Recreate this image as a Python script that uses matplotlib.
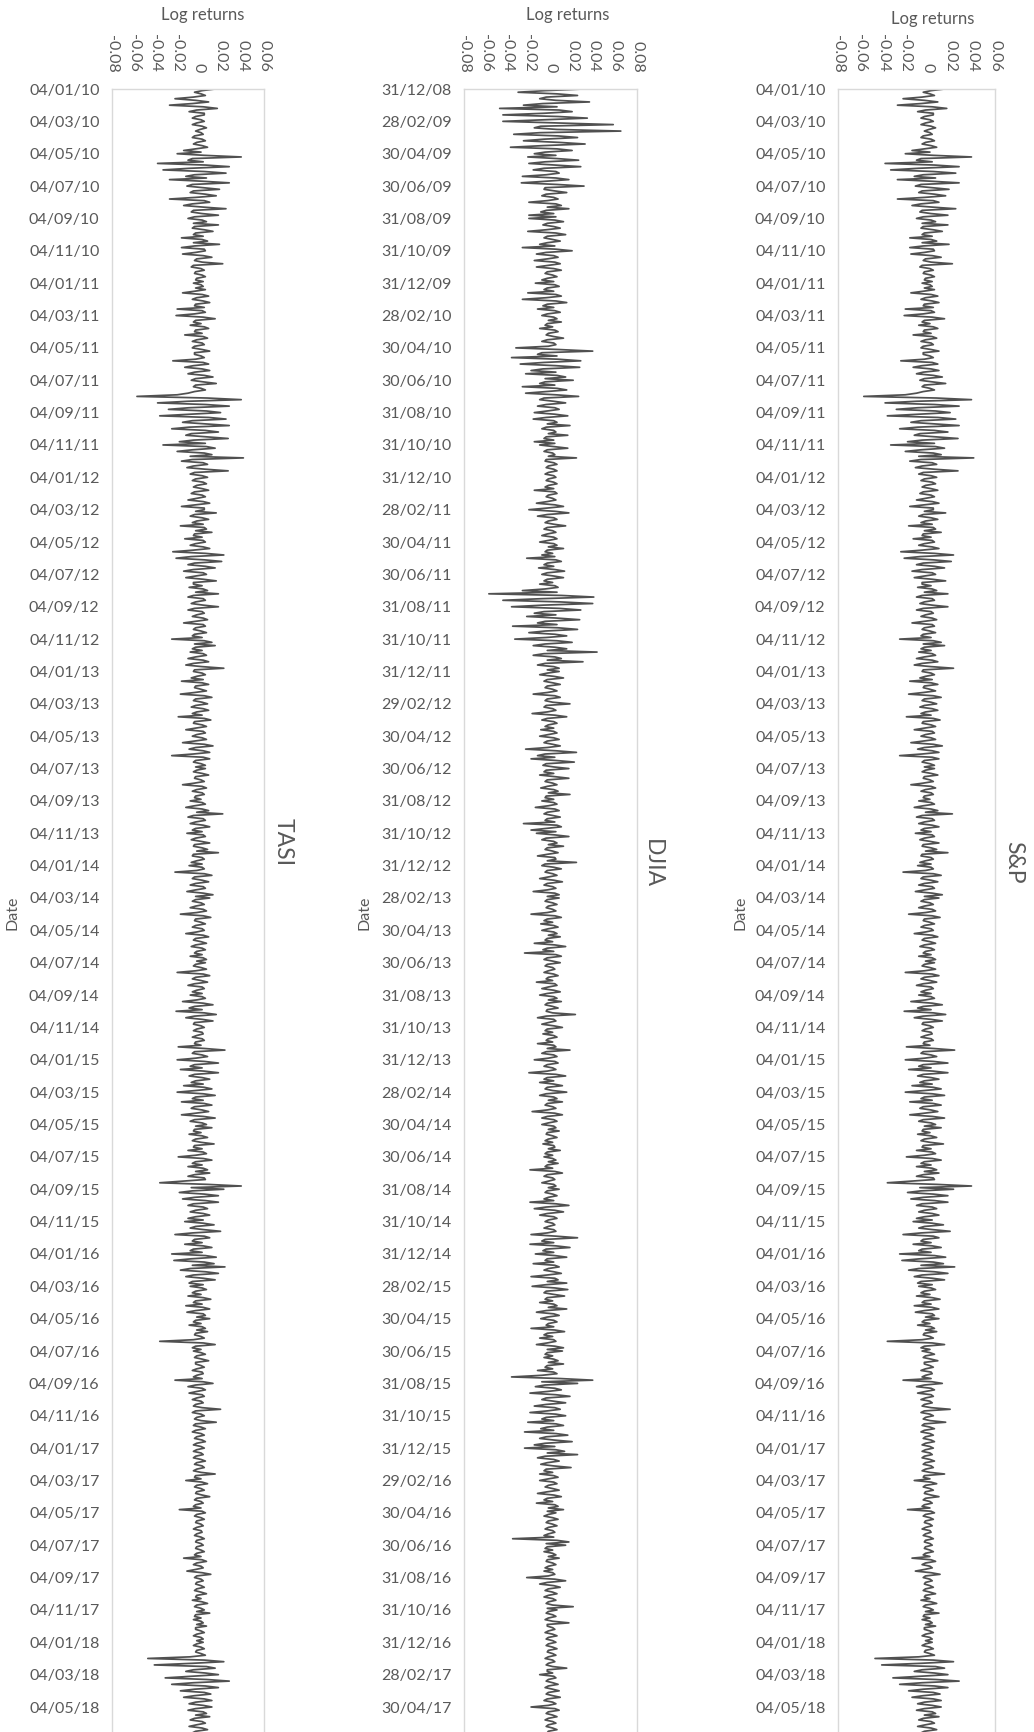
import numpy as np
import matplotlib.pyplot as plt

plt.rcParams['font.family'] = ['Lato', 'DejaVu Sans']

# daily log returns, in percent, twenty readings per two-month tick interval
tasi_returns = [
    1.5, 0.3, -0.4, 0.2, 0.6, -0.5, -2.2, -0.3, 0.9, -0.6, -2.7, 0.4, 1.7, -0.2, -0.9, 0.5, 0.5, -0.3, -0.6, 0.2,
    0.5, -0.2, -0.6, 0.3, 0.7, 0.1, -0.3, 0.2, 0.4, -0.4, -0.6, 0.3, 0.6, -0.2, -0.5, 0.3, 0.8, -0.3, -1.4, 0.2,
    -2.0, 0.5, 3.9, -0.6, -1.0, 0.4, -3.8, 0.6, 2.8, -0.8, -3.3, 0.5, 2.5, -0.4, -1.2, 0.7, -2.7, 0.3, 2.8, -0.6,
    -1.1, 0.4, 1.9, -0.5, -0.8, 0.6, 1.6, -0.3, -2.7, 0.5, 1.0, -0.6, -1.4, 0.4, 2.5, -0.5, -0.7, 0.3, 1.8, -0.4,
    -1.0, 0.3, 0.7, -0.5, 1.8, -0.4, -0.6, 0.5, 1.3, -0.3, -0.5, 0.4, -1.6, 0.3, 0.8, -0.5, 1.9, -0.4, -1.6, 0.5,
    0.6, -0.3, -1.5, 0.4, 1.2, -0.2, -0.4, 0.3, 2.2, -0.5, -0.7, 0.2, 0.5, -0.3, -0.4, 0.3, 0.6, -0.2, -0.3, 0.4,
    -0.5, 0.2, 0.4, -0.3, 0.6, -0.4, -1.5, 0.3, 0.9, -0.2, -0.6, 0.4, 1.0, -0.3, -0.4, 0.5, -2.0, 0.3, 0.6, -0.4,
    -2.1, 0.4, 1.5, -0.3, -0.5, 0.2, -0.8, 0.5, 0.9, -0.3, -0.4, 0.3, -1.3, 0.4, 0.8, -0.2, -0.6, 0.3, 0.5, -0.4,
    -0.6, 0.3, 1.0, -0.4, -0.4, 0.2, 0.5, -0.3, -2.4, 0.4, 0.9, -0.5, -1.3, 0.3, 1.0, -0.4, -1.0, 0.5, 1.3, -0.3,
    -0.7, 0.4, 1.6, -0.3, -0.5, 0.2, 0.6, -0.4, -1.0, -2.0, -5.7, 0.8, 3.9, -1.0, -3.8, 0.6, 2.8, -0.9, -2.8, 0.7,
    2.0, -0.8, -3.6, 0.9, 2.5, -0.6, -1.5, 0.7, 2.8, -0.9, -2.5, 0.6, 1.8, -0.7, -1.2, 0.8, 2.7, -0.5, -1.8, 0.6,
    -3.3, 0.7, 1.5, -0.6, -2.0, 0.5, 1.2, -0.8, 4.1, -0.6, -1.6, 0.4, 0.8, -0.5, -1.1, 0.6, 2.7, -0.4, -0.8, 0.3,
    0.8, -0.3, -0.6, 0.4, 0.7, -0.2, -0.5, 0.3, 0.9, -0.4, -0.7, 0.3, 0.6, -0.2, -1.0, 0.4, 1.0, -0.3, -1.6, 0.5,
    0.5, -0.3, 1.6, -0.4, -0.8, 0.3, 0.9, -0.2, -0.6, 0.4, -1.7, 0.5, 0.7, -0.3, 1.2, -0.4, -0.5, 0.3, -1.3, 0.4,
    0.6, -0.3, -0.8, 0.4, 1.0, -0.5, -2.4, 0.6, 2.3, -0.7, -2.1, 0.5, 2.1, -0.4, -1.0, 0.6, 1.5, -0.5, -1.4, 0.4,
    0.7, -0.3, -1.2, 0.4, 1.6, -0.5, -0.5, 0.3, -0.9, 0.4, 0.8, -0.3, 1.8, -0.5, -1.0, 0.4, 0.6, -0.3, -0.7, 0.4,
    1.8, -0.4, -1.0, 0.3, 0.5, -0.2, -0.6, 0.4, 0.8, -0.3, -1.4, 0.4, 0.6, -0.3, -0.5, 0.2, 0.7, -0.4, -0.6, 0.3,
    -2.5, 0.5, 1.2, -0.4, 1.5, -0.3, -0.6, 0.3, -0.8, 0.4, 0.7, -0.3, -1.0, 0.4, 0.9, -0.5, -1.2, 0.3, 2.3, -0.4,
    -0.5, 0.3, 0.6, -0.2, -0.7, 0.4, -1.6, 0.3, 0.9, -0.3, -0.4, 0.2, 0.7, -0.4, -1.7, 0.5, 1.2, -0.3, -0.5, 0.3,
    0.8, -0.3, -0.7, 0.4, 0.9, -0.2, -0.6, 0.3, -1.9, 0.5, 1.1, -0.4, -0.5, 0.3, 0.7, -0.3, -1.2, 0.4, 0.6, -0.2,
    -0.6, 0.3, 0.7, -0.4, -1.5, 0.5, 1.3, -0.3, -0.9, 0.4, 1.0, -0.5, -2.5, 0.4, 1.0, -0.3, -0.5, 0.2, 0.6, -0.3,
    0.6, -0.2, -0.5, 0.3, 0.9, -0.3, -0.4, 0.2, 0.5, -0.4, -1.5, 0.3, 0.7, -0.2, -0.6, 0.3, 0.5, -0.3, -0.4, 0.2,
    -0.8, 0.3, 0.6, -0.4, -1.2, 0.3, 0.9, -0.2, 2.2, -0.5, -1.0, 0.4, 0.6, -0.3, -0.8, 0.4, 1.0, -0.3, -0.6, 0.3,
    -1.1, 0.4, 0.6, -0.3, -0.7, 0.2, 1.0, -0.4, -0.5, 0.3, 0.8, -0.2, 1.8, -0.5, -0.6, 0.3, 0.5, -0.2, -0.7, 0.3,
    -0.9, 0.3, 0.5, -0.2, -2.2, 0.5, 1.2, -0.4, -0.6, 0.3, 0.9, -0.3, -0.8, 0.4, 0.6, -0.3, -1.1, 0.4, 1.3, -0.3,
    1.0, -0.3, -0.6, 0.2, 0.5, -0.3, -0.8, 0.4, 0.7, -0.2, -1.7, 0.4, 1.1, -0.3, -0.4, 0.2, 0.6, -0.3, -0.6, 0.3,
    0.5, -0.2, -1.2, 0.4, 0.9, -0.3, -0.5, 0.2, 0.7, -0.3, -0.7, 0.3, 0.6, -0.2, -0.4, 0.3, -0.8, 0.4, 0.7, -0.2,
    0.6, -0.3, -0.5, 0.2, 0.7, -0.3, -2.0, 0.4, 1.0, -0.3, -0.6, 0.2, 0.8, -0.4, -1.0, 0.3, 0.5, -0.2, -0.6, 0.3,
    -0.8, 0.3, 0.6, -0.2, -1.5, 0.4, 1.3, -0.4, -0.9, 0.3, -2.1, 0.5, 1.6, -0.4, -1.2, 0.3, 1.3, -0.4, -0.5, 0.2,
    0.5, -0.2, -0.5, 0.3, 0.4, -0.2, -0.6, 0.3, 0.5, -0.3, -0.4, 0.2, -1.9, 0.5, 2.4, -0.4, -0.6, 0.3, 0.8, -0.3,
    -2.0, 0.5, 1.8, -0.4, -0.8, 0.3, -1.7, 0.5, 1.8, -0.4, -0.9, 0.3, 1.0, -0.3, -0.7, 0.4, -1.4, 0.5, 1.2, -0.3,
    -2.0, 0.4, 1.5, -0.3, -0.6, 0.4, -1.6, 0.5, 1.2, -0.4, -0.7, 0.3, 0.9, -0.3, -1.6, 0.4, 1.5, -0.4, -0.8, 0.3,
    0.7, -0.3, 1.2, -0.4, -0.5, 0.2, -0.9, 0.3, 0.8, -0.3, -0.6, 0.2, 1.4, -0.4, -0.5, 0.3, -1.0, 0.4, 0.7, -0.3,
    -1.9, 0.4, 1.2, -0.3, -0.6, 0.3, -1.0, 0.4, 0.8, -0.3, 1.0, -0.4, -1.0, 0.5, 0.6, -1.5, -3.6, 0.8, 3.9, -0.7,
    2.3, -0.6, -1.8, 0.5, 1.8, -0.4, -1.5, 0.6, 1.8, -0.5, -1.0, 0.4, 0.8, -0.3, -0.8, 0.4, 1.0, -0.3, -1.0, 0.4,
    -1.3, 0.4, 1.4, -0.3, -0.8, 0.5, 2.0, -0.6, -2.2, 0.5, 1.0, -0.4, -0.6, 0.3, -1.3, 0.4, 1.2, -0.5, -0.8, 0.3,
    -2.5, 0.6, 1.6, -0.7, -2.3, 0.5, 1.4, -0.6, 2.4, -0.8, -1.7, 0.6, 1.8, -0.5, -1.2, 0.4, 1.5, -0.6, -0.9, 0.4,
    -0.8, 0.3, 0.7, -0.3, -0.6, 0.2, -1.0, 0.4, 1.1, -0.3, -0.5, 0.3, -1.2, 0.4, 1.0, -0.3, -1.1, 0.4, 0.6, -0.2,
    1.0, -0.3, -0.5, 0.2, -0.9, 0.3, 0.6, -0.2, 0.8, -0.3, -0.4, 0.2, 0.5, -0.5, -3.6, 0.4, 1.5, -0.3, -0.6, 0.2,
    -0.5, 0.2, 0.6, -0.2, -0.4, 0.3, 0.9, -0.3, -0.3, 0.2, 0.5, -0.2, -0.6, 0.3, 0.4, -0.2, -0.5, 0.3, -2.2, 0.4,
    1.3, -0.3, -1.0, 0.3, 0.6, -0.2, -0.9, 0.3, 0.5, -0.2, -0.6, 0.2, 0.4, -0.3, -0.5, 0.3, 2.0, -0.3, -0.6, 0.2,
    0.5, -0.2, -0.4, 0.2, 1.6, -0.3, -0.5, 0.2, 0.6, -0.3, -0.6, 0.2, 0.5, -0.2, -0.4, 0.3, 0.6, -0.2, -0.5, 0.2,
    0.5, -0.2, -0.5, 0.2, 0.4, -0.3, -0.5, 0.2, 0.6, -0.2, -0.4, 0.3, 0.5, -0.2, -0.5, 0.2, 1.5, -0.3, -0.4, 0.2,
    -1.2, 0.3, 0.8, -0.2, -0.4, 0.2, 0.5, -0.2, -0.3, 0.3, 1.0, -0.2, -0.4, 0.2, 0.4, -0.3, -0.5, 0.2, -1.8, 0.3,
    0.6, -0.2, -0.4, 0.2, 0.5, -0.2, -0.3, 0.2, 0.4, -0.2, -0.5, 0.2, 0.3, -0.2, -0.4, 0.2, 0.5, -0.2, -0.3, 0.2,
    0.4, -0.2, -0.3, 0.2, 0.5, -0.2, -0.4, 0.2, -1.4, 0.3, 0.7, -0.2, -0.5, 0.2, 0.4, -0.3, -1.1, 0.3, 1.1, -0.2,
    -0.4, 0.2, 0.4, -0.2, -0.3, 0.2, 0.5, -0.2, -0.4, 0.2, 0.7, -0.2, -0.3, 0.2, -0.6, 0.3, 0.8, -0.2, -0.4, 0.2,
    0.5, -0.2, 1.0, -0.3, -0.4, 0.2, -0.5, 0.2, 0.4, -0.2, 0.7, -0.3, -0.3, 0.2, 0.5, -0.2, -0.5, 0.2, 0.4, -0.2,
    0.4, -0.2, -0.5, 0.2, 0.5, -0.2, -0.3, 0.2, 0.6, -0.8, -4.7, 0.5, 2.3, -0.6, -4.1, 0.7, 1.5, -0.5, -1.2, 0.6,
    1.8, -0.6, -3.1, 0.7, 2.8, -0.5, -2.5, 0.6, 1.8, -0.4, -1.7, 0.5, 1.1, -0.4, -1.4, 0.5, 1.2, -0.3, -0.9, 0.4,
    1.2, -0.3, -1.0, 0.4, 0.7, -0.3, 1.0, -0.4, -0.8, 0.3, 0.6, -0.2, -0.9, 0.3, 0.8, -0.3, -0.6, 0.2, 0.7, -0.3,
    -0.7, 0.3, 0.8, -0.3, -0.6, 0.2, 0.9, -0.3, -0.5, 0.2, 0.6, -0.2, -0.8, 0.3, 0.5, -0.2, -0.4, 0.2, 0.6, -0.2,
]

djia_returns = [
    3.0, -0.5, -3.0, 0.6, 2.5, -0.4, -1.0, 0.5, 3.6, -0.7, -2.5, 0.6, -4.7, 0.8, 2.0, -0.6, -4.4, 0.7, 3.4, -0.5,
    -4.4, 0.8, 5.8, -0.9, -1.5, 0.6, 6.5, -1.0, -3.4, 0.7, 2.5, -0.6, -2.5, 0.8, 3.2, -0.7, -3.7, 0.6, 2.0, -0.5,
    -1.5, 0.5, -2.1, 0.6, 2.6, -0.5, -2.0, 0.4, 2.8, -0.6, -1.6, 0.5, 0.8, -0.4, -2.6, 0.5, 1.7, -0.4, -2.7, 0.6,
    3.1, -0.5, -0.6, 0.4, 1.5, -0.4, -0.8, 0.3, 0.7, -0.3, -2.0, 0.5, 1.0, -0.3, 1.7, -0.4, -0.9, 0.3, -2.0, 0.5,
    -2.0, 0.4, 1.2, -0.3, -0.7, 0.3, 0.9, -0.4, -2.1, 0.5, 1.4, -0.3, -0.6, 0.2, 0.9, -0.3, -1.0, 0.4, -2.6, 0.5,
    2.0, -0.4, -1.3, 0.3, 0.7, -0.3, -1.5, 0.4, 0.9, -0.2, -1.3, 0.3, 1.0, -0.3, -0.5, 0.2, 0.6, -0.3, -0.8, 0.3,
    -1.4, 0.4, 0.8, -0.3, -0.6, 0.3, -2.1, 0.5, 1.0, -0.4, -2.6, 0.5, 1.5, -0.3, -0.7, 0.3, -1.2, 0.4, 0.9, -0.3,
    -0.8, 0.3, 0.6, -0.2, 1.0, -0.3, -0.5, 0.2, -1.0, 0.4, 0.7, -0.2, -0.4, 0.3, 1.2, -0.3, -0.8, 0.3, 0.5, -0.2,
    -3.2, 0.7, 3.9, -0.8, -1.2, 0.6, -3.6, 0.7, 2.8, -0.6, -2.8, 0.5, 2.7, -0.7, -1.8, 0.5, -2.3, 0.6, 1.4, -0.5,
    2.1, -0.5, -1.0, 0.4, -2.6, 0.6, 1.5, -0.4, -2.3, 0.5, 2.6, -0.6, -1.0, 0.3, 1.4, -0.4, -1.2, 0.4, 0.8, -0.3,
    -1.5, 0.4, 1.6, -0.4, -1.6, 0.3, 0.6, -0.3, 1.8, -0.4, -0.8, 0.3, 0.5, -0.2, 1.6, -0.4, -0.6, 0.3, -1.5, 0.4,
    -1.0, 0.3, 1.6, -0.3, -0.6, 0.2, 0.4, -0.2, 2.4, -0.4, -0.5, 0.3, 0.6, -0.2, -0.4, 0.3, 0.6, -0.2, -0.5, 0.3,
    0.5, -0.2, -0.4, 0.3, 0.6, -0.2, -0.5, 0.3, -1.5, 0.4, 0.6, -0.2, -0.4, 0.2, 0.5, -0.3, -1.3, 0.4, 1.2, -0.3,
    -2.0, 0.4, 1.7, -0.3, -1.2, 0.3, 0.6, -0.2, -0.5, 0.3, 1.4, -0.3, -0.6, 0.2, 0.5, -0.3, -0.8, 0.3, 0.6, -0.2,
    -1.0, 0.3, 0.6, -0.2, 1.2, -0.3, -0.5, 0.2, -0.8, 0.4, -2.2, 0.5, 1.0, -0.3, -0.6, 0.3, -1.1, 0.4, 1.3, -0.3,
    -0.8, 0.3, 1.2, -0.3, -0.6, 0.2, -1.0, 0.4, 0.7, -0.5, -2.6, 0.6, -5.7, 1.0, 4.0, -0.8, -4.4, 0.9, 3.9, -0.7,
    -3.6, 0.8, 2.8, -0.6, -1.5, 0.5, -2.2, 0.6, 2.7, -0.5, -1.2, 0.6, -3.5, 0.7, 2.5, -0.5, -2.0, 0.4, 1.5, -0.4,
    -3.3, 0.6, 2.0, -0.5, -1.6, 0.4, 1.5, -0.3, 4.3, -0.6, -1.6, 0.4, 1.0, -0.3, 3.0, -0.5, -1.2, 0.3, 0.8, -0.3,
    0.8, -0.3, -1.0, 0.3, 1.2, -0.3, -0.6, 0.2, 0.9, -0.3, -0.5, 0.2, 0.6, -0.3, -1.6, 0.4, 0.9, -0.3, -0.5, 0.2,
    1.8, -0.4, -0.6, 0.2, 0.5, -0.3, -1.7, 0.4, 1.5, -0.3, -0.8, 0.3, 0.6, -0.2, -0.5, 0.3, -0.9, 0.3, 0.6, -0.2,
    -1.0, 0.3, 0.8, -0.3, -0.6, 0.2, 0.9, -0.3, -2.3, 0.5, 2.4, -0.5, -1.2, 0.4, -1.8, 0.5, 2.2, -0.4, -0.7, 0.3,
    1.7, -0.4, -0.6, 0.3, -1.0, 0.4, 1.7, -0.3, -0.5, 0.2, 0.6, -0.3, -0.9, 0.3, 0.7, -0.2, 1.8, -0.4, -0.5, 0.3,
    -0.8, 0.3, 0.6, -0.2, -1.4, 0.4, 0.8, -0.3, -0.6, 0.2, 0.9, -0.3, -0.5, 0.4, -2.5, 0.6, 1.0, -0.4, -1.8, 0.5,
    -1.3, 0.4, 1.7, -0.4, -0.8, 0.3, 0.6, -0.2, 1.2, -0.3, -0.5, 0.2, 0.7, -0.3, -1.2, 0.4, 0.5, -0.3, 2.4, -0.5,
    -0.8, 0.3, 1.0, -0.3, -0.5, 0.2, 0.6, -0.2, -1.0, 0.3, 1.1, -0.3, -0.6, 0.2, 0.5, -0.3, -1.6, 0.4, 0.8, -0.3,
    0.8, -0.3, -0.5, 0.2, 0.6, -0.2, -0.4, 0.2, 0.5, -0.3, -1.8, 0.4, 1.0, -0.3, -0.6, 0.2, -0.9, 0.3, 0.7, -0.2,
    -0.8, 0.3, 0.6, -0.2, 0.9, -0.3, -0.5, 0.2, -1.5, 0.4, 1.4, -0.3, -0.7, 0.3, -2.4, 0.5, 1.0, -0.3, -0.6, 0.2,
    0.9, -0.3, -0.5, 0.2, 0.4, -0.2, -0.6, 0.3, 0.7, -0.2, -0.4, 0.2, -1.3, 0.4, 0.6, -0.2, -0.8, 0.3, 0.9, -0.3,
    -1.0, 0.3, 0.6, -0.2, 1.0, -0.3, -0.5, 0.2, 0.7, -0.3, -0.4, 0.2, 2.3, -0.4, -1.2, 0.3, 0.5, -0.2, -0.8, 0.3,
    1.1, -0.3, -0.5, 0.2, -0.7, 0.3, 0.6, -0.2, -0.4, 0.2, -1.2, 0.3, 0.5, -0.3, 1.8, -0.4, -0.8, 0.3, 0.6, -0.2,
    -1.5, 0.4, 0.7, -0.3, -0.6, 0.2, 0.5, -0.3, -2.0, 0.5, 1.4, -0.3, -0.6, 0.3, -1.0, 0.3, 1.1, -0.3, -0.5, 0.2,
    1.5, -0.4, -1.0, 0.3, 0.6, -0.2, 1.1, -0.3, -0.5, 0.2, 0.5, -0.3, -1.7, 0.4, 1.1, -0.3, -0.8, 0.3, 0.6, -0.2,
    -0.8, 0.3, 0.5, -0.2, 0.8, -0.3, -0.4, 0.2, 0.6, -0.2, -0.5, 0.2, -0.7, 0.3, 0.4, -0.2, 0.9, -0.3, -0.5, 0.2,
    -0.6, 0.2, 0.5, -0.2, 0.7, -0.3, -0.5, 0.2, -1.9, 0.4, 1.1, -0.3, -0.6, 0.2, 0.4, -0.2, -0.8, 0.3, 0.5, -0.2,
    0.8, -0.3, -0.5, 0.2, 0.6, -0.2, -0.6, 0.3, -1.9, 0.5, 1.7, -0.4, -1.5, 0.4, 1.2, -0.3, -1.0, 0.3, 0.6, -0.2,
    -0.5, 0.2, 0.4, -0.2, -0.6, 0.3, 0.5, -0.3, -1.8, 0.5, 2.5, -0.5, -0.8, 0.3, -1.9, 0.5, 1.8, -0.4, -0.7, 0.3,
    -1.4, 0.4, 1.5, -0.3, -0.5, 0.3, -1.6, 0.4, 0.8, -0.2, -0.6, 0.3, 1.0, -0.3, -1.8, 0.4, 0.7, -0.3, 1.5, -0.4,
    -1.7, 0.4, 1.6, -0.4, -0.6, 0.3, 1.3, -0.3, -0.5, 0.2, -1.0, 0.3, 0.6, -0.2, 1.5, -0.4, -1.3, 0.3, 0.8, -0.3,
    -0.9, 0.3, 0.6, -0.2, -0.4, 0.3, -1.8, 0.4, 1.3, -0.3, -0.6, 0.2, -1.0, 0.3, 0.5, -0.3, -1.3, 0.4, 1.2, -0.3,
    1.1, -0.3, -0.5, 0.2, -0.6, 0.3, 0.7, -0.2, 1.2, -0.3, -0.5, 0.2, -1.2, 0.3, 0.6, -0.8, -3.6, 0.9, 3.9, -0.8,
    2.5, -0.5, -1.4, 0.4, 1.0, -0.3, -1.9, 0.5, 1.8, -0.4, -0.8, 0.3, 1.4, -0.4, -1.5, 0.4, 0.9, -0.3, -1.9, 0.5,
    1.4, -0.4, -0.8, 0.3, -2.1, 0.5, 1.2, -0.3, -0.9, 0.3, -2.4, 0.5, 1.6, -0.4, -1.0, 0.3, 2.0, -0.5, -1.5, 0.4,
    -2.4, 0.5, 1.3, -0.3, 2.5, -0.5, -1.2, 0.3, 0.8, -0.3, -0.9, 0.3, 1.9, -0.4, -0.6, 0.2, -1.0, 0.3, 0.7, -0.2,
    -1.0, 0.3, 0.6, -0.2, -0.5, 0.2, 0.8, -0.3, -1.2, 0.3, 1.0, -0.3, -0.6, 0.2, -1.3, 0.4, 0.7, -0.2, 1.2, -0.3,
    0.5, -0.2, -0.6, 0.2, 0.7, -0.2, -0.4, 0.2, 0.6, -0.2, -0.5, 0.2, 0.4, -0.2, -0.6, 0.3, -3.5, 0.6, 1.7, -0.4,
    1.4, -0.3, -0.5, 0.2, -0.6, 0.2, 0.5, -0.2, 0.8, -0.3, -0.4, 0.2, 0.5, -0.2, -0.5, 0.2, -0.6, 0.2, 0.4, -0.2,
    -2.2, 0.4, 1.4, -0.3, -1.0, 0.3, 0.9, -0.2, -0.5, 0.2, 0.6, -0.2, -0.6, 0.2, 0.5, -0.2, -0.4, 0.2, 2.1, -0.3,
    0.6, -0.2, -0.4, 0.2, 0.5, -0.2, -0.5, 0.2, 1.7, -0.3, -0.3, 0.2, 0.4, -0.2, -0.5, 0.2, 0.6, -0.2, -0.4, 0.2,
    0.5, -0.2, -0.4, 0.2, 0.6, -0.2, -0.3, 0.2, 0.5, -0.2, -0.5, 0.2, 0.4, -0.2, -0.4, 0.2, 1.5, -0.3, -0.3, 0.2,
    -1.0, 0.3, 0.5, -0.2, -0.4, 0.2, 0.7, -0.2, -0.5, 0.2, 0.8, -0.2, -0.4, 0.2, 0.9, -0.3, -0.6, 0.2, 0.5, -0.2,
    -1.8, 0.4, 0.8, -0.2, -0.4, 0.2, 0.6, -0.2, -0.5, 0.2, 0.5, -0.2, -0.4, 0.2, 0.6, -0.2, -0.3, 0.2, 0.5, -0.2,
    -0.4, 0.2, 0.5, -0.2, -0.6, 0.2, 0.4, -0.2, -0.5, 0.2, 0.6, -0.2, -0.3, 0.2, 0.5, -0.2, -0.4, 0.2, 0.5, -0.2,
]

# the S&P panel in the source repeats the TASI trace
sp_returns = list(tasi_returns)

per_tick = 20

tasi_dates = [
    '04/01/10', '04/03/10', '04/05/10', '04/07/10', '04/09/10', '04/11/10',
    '04/01/11', '04/03/11', '04/05/11', '04/07/11', '04/09/11', '04/11/11',
    '04/01/12', '04/03/12', '04/05/12', '04/07/12', '04/09/12', '04/11/12',
    '04/01/13', '04/03/13', '04/05/13', '04/07/13', '04/09/13', '04/11/13',
    '04/01/14', '04/03/14', '04/05/14', '04/07/14', '04/09/14', '04/11/14',
    '04/01/15', '04/03/15', '04/05/15', '04/07/15', '04/09/15', '04/11/15',
    '04/01/16', '04/03/16', '04/05/16', '04/07/16', '04/09/16', '04/11/16',
    '04/01/17', '04/03/17', '04/05/17', '04/07/17', '04/09/17', '04/11/17',
    '04/01/18', '04/03/18', '04/05/18',
]
djia_dates = [
    '31/12/08', '28/02/09', '30/04/09', '30/06/09', '31/08/09', '31/10/09',
    '31/12/09', '28/02/10', '30/04/10', '30/06/10', '31/08/10', '31/10/10',
    '31/12/10', '28/02/11', '30/04/11', '30/06/11', '31/08/11', '31/10/11',
    '31/12/11', '29/02/12', '30/04/12', '30/06/12', '31/08/12', '31/10/12',
    '31/12/12', '28/02/13', '30/04/13', '30/06/13', '31/08/13', '31/10/13',
    '31/12/13', '28/02/14', '30/04/14', '30/06/14', '31/08/14', '31/10/14',
    '31/12/14', '28/02/15', '30/04/15', '30/06/15', '31/08/15', '31/10/15',
    '31/12/15', '29/02/16', '30/04/16', '30/06/16', '31/08/16', '31/10/16',
    '31/12/16', '28/02/17', '30/04/17',
]
sp_dates = list(tasi_dates)

tasi_xticks = [-0.08, -0.06, -0.04, -0.02, 0, 0.02, 0.04, 0.06]
djia_xticks = [-0.08, -0.06, -0.04, -0.02, 0, 0.02, 0.04, 0.06, 0.08]
sp_xticks = list(tasi_xticks)

W, H = 1034, 1732
fig = plt.figure(figsize=(W / 100, H / 100), dpi=100)
grey = '#595959'

panels = [
    # name, returns, dates, xticks, left px, right px, title x, name x, name y, date-label x, title y
    ('TASI', tasi_returns, tasi_dates, tasi_xticks, 112, 264, 203, 283, 842, 13, 15),
    ('DJIA', djia_returns, djia_dates, djia_xticks, 464, 637, 568, 652, 864, 365, 15),
    ('S&P', sp_returns, sp_dates, sp_xticks, 838, 995, 933, 1014, 862, 740, 19),
]

top_px = 89
step_px = 32.36
n_rows = 52

for name, rets, dates, xt, x0, x1, tx, nx, ny, dx, ty in panels:
    h_px = n_rows * step_px
    ax = fig.add_axes([x0 / W, (H - top_px - h_px) / H, (x1 - x0) / W, h_px / H])
    r = np.array(rets) / 100.0
    y = np.arange(len(r)) / per_tick
    ax.plot(r, y, color='#505050', lw=1.25)
    ax.set_xlim(xt[0], xt[-1])
    ax.set_ylim(n_rows, 0)
    ax.xaxis.tick_top()
    ax.set_xticks(xt)
    ax.set_xticklabels(['0' if v == 0 else f'{v:.2f}' for v in xt])
    ax.set_yticks(range(len(dates)))
    ax.set_yticklabels(dates)
    ax.tick_params(axis='x', length=0, pad=12, labelrotation=-90,
                   labelsize=11.5, labelcolor=grey)
    ax.tick_params(axis='y', length=0, pad=9, labelsize=11.5, labelcolor=grey)
    for s in ax.spines.values():
        s.set_color('#d9d9d9')
        s.set_linewidth(1.0)

    fig.text(tx / W, 1 - ty / H, 'Log returns', ha='center', va='center',
             fontsize=12, color=grey)
    fig.text(nx / W, 1 - ny / H, name, ha='center', va='center',
             rotation=-90, fontsize=16.5, color=grey)
    fig.text(dx / W, 1 - 913 / H, 'Date', ha='center', va='center',
             rotation=90, fontsize=11.5, color=grey)

fig.savefig('out.png', dpi=100)
